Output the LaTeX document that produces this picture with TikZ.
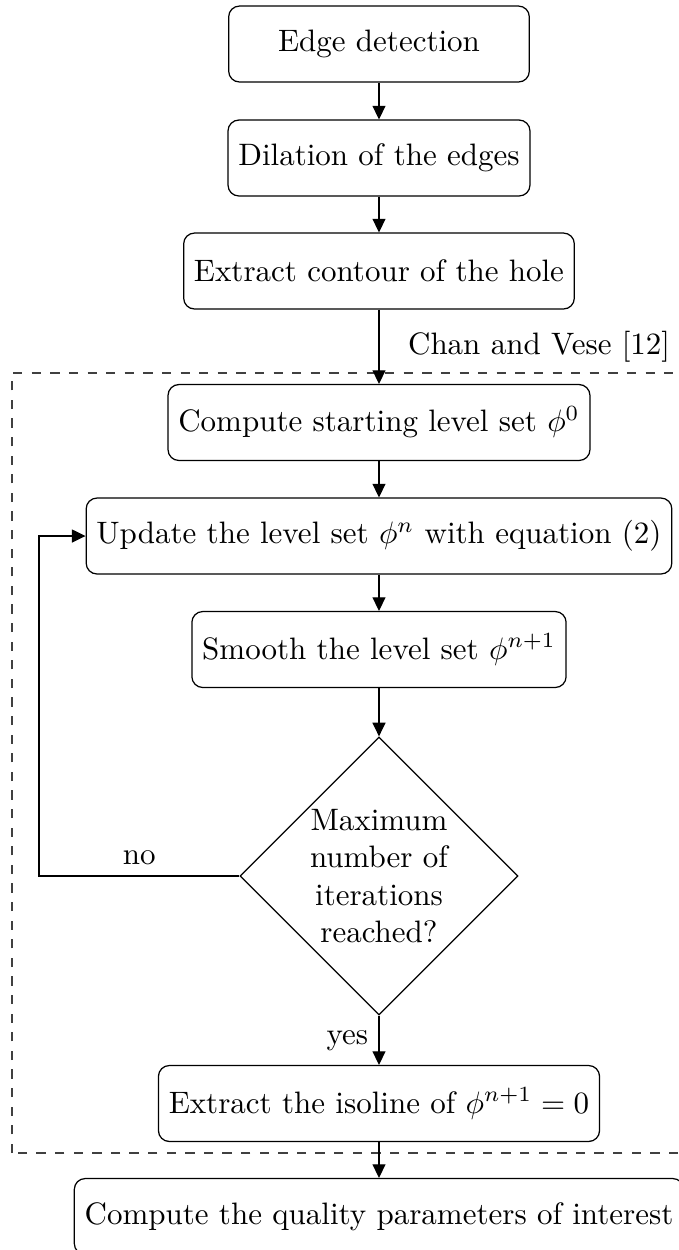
\documentclass[tikz,border=0pt]{standalone}
\usetikzlibrary{shapes.geometric,arrows.meta}
\begin{document}
\begin{tikzpicture}[x=0.3226pt,y=-0.3226pt,
  proc/.style={draw, rounded corners=3.5pt, minimum width=97pt, minimum height=24.5pt, inner sep=3.33pt, align=center},
  decbox/.style={draw, diamond, aspect=1, inner sep=0pt, minimum width=89.7pt, minimum height=89.7pt, align=center},
  arr/.style={-{Triangle[length=4.4pt,width=4.2pt]}},
  lbl/.style={inner sep=3.33pt},
  region/.style={dashed, draw=black!75}]
\useasboundingbox (0,0) rectangle (679,1250);
\clip (0,0) rectangle (679,1250);

\node[proc] (b1) at (379,44) {Edge detection};
\node[proc] (b2) at (379,158) {Dilation of the edges};
\node[proc] (b3) at (379,271) {Extract contour of the hole};
\node[proc] (b4) at (379,422.5) {Compute starting level set $\phi^0$};
\node[proc] (b5) at (379,536) {Update the level set $\phi^n$ with equation (2)};
\node[proc] (b6) at (379,649.5) {Smooth the level set $\phi^{n+1}$};
\node[decbox] (d) at (379,876) {Maximum\\number of\\iterations\\reached?};
\node[proc] (b7) at (379,1103.5) {Extract the isoline of $\phi^{n+1}=0$};
\node[proc] (b8) at (379,1216.5) {Compute the quality parameters of interest};

\coordinate (cvsw) at (12,1153);
\coordinate (cvne) at (681,373);
\draw[region] (cvsw) rectangle (cvne);
\node[lbl, anchor=south east] (cvlabel) at (cvne) {Chan and Vese [12]};

\coordinate (loop) at (39,876);

\draw[arr] (b1) -- (b2);
\draw[arr] (b2) -- (b3);
\draw[arr] (b3) -- (b4);
\draw[arr] (b4) -- (b5);
\draw[arr] (b5) -- (b6);
\draw[arr] (b6) -- (d);
\draw[arr] (d.south) -- node[lbl, left] {yes} (b7.north);
\draw[arr] (d.west) -- node[lbl, above] {no} (loop) |- (b5.west);
\draw[arr] (b7) -- (b8);
\end{tikzpicture}
\end{document}
